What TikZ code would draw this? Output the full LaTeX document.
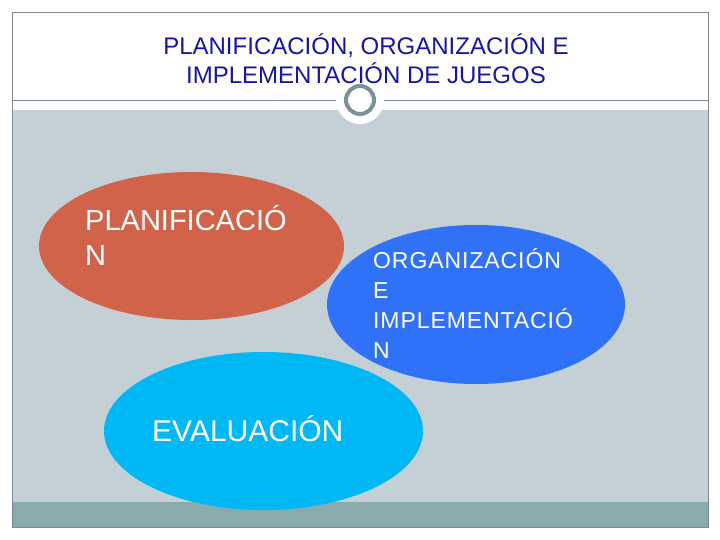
\documentclass[tikz,border=0pt]{standalone}
\usepackage{fontspec}
\setmainfont{Liberation Sans}
\usetikzlibrary{shapes.geometric}

\definecolor{panelgray}{RGB}{197,208,214}
\definecolor{bargray}{RGB}{138,171,171}
\definecolor{framegray}{RGB}{128,138,142}
\definecolor{ringgray}{RGB}{120,148,150}
\definecolor{titleblue}{RGB}{22,22,160}
\definecolor{planorange}{RGB}{208,99,74}
\definecolor{orgblue}{RGB}{48,114,247}
\definecolor{evalcyan}{RGB}{0,184,244}

\tikzset{
    blob/.style = {ellipse, inner sep = 0pt},
    bigtext/.style = {anchor = base west, inner sep = 0pt, text = white, font = \fontsize{29}{35}\selectfont},
    orgtext/.style = {anchor = base west, inner sep = 0pt, text = white, font = \addfontfeature{LetterSpace=4.0}\fontsize{23}{30}\selectfont},
    titletext/.style = {anchor = base, inner sep = 0pt, text = titleblue, font = \fontsize{24}{29}\selectfont}
}

\begin{document}
\begin{tikzpicture}[x = 1pt, y = -1pt]
    \useasboundingbox (0, 0) rectangle (720, 540);
    \fill [white] (0, 0) rectangle (720, 540);

    % panel and bottom bar
    \fill [panelgray] (12, 110) rectangle (708, 502);
    \fill [bargray] (12, 502) rectangle (708, 527);
    \draw [framegray, line width = .8pt] (12, 12) rectangle (708, 527);
    \draw [framegray, line width = .8pt] (12, 100) -- (708, 100);

    % ring on the rule
    \fill [white] (360, 100) circle (24);
    \draw [ringgray, line width = 4pt, fill = white] (360, 100) circle (14);

    % title
    \node [titletext] (title1) at (366, 55) {PLANIFICACIÓN, ORGANIZACIÓN E};
    \node [titletext] (title2) at (366, 84) {IMPLEMENTACIÓN DE JUEGOS};

    %%%%%%%%%%%%%%%%%%%%
    \node [blob, fill = planorange, minimum width = 305, minimum height = 148] (plan) at (191.5, 246) {};
    \node [blob, fill = orgblue, minimum width = 298, minimum height = 159] (org) at (476, 304.5) {};
    \node [blob, fill = evalcyan, minimum width = 319, minimum height = 158] (eval) at (263.5, 431) {};

    \node [bigtext] (plan1) at (85, 230) {PLANIFICACIÓ};
    \node [bigtext] (plan2) at (85, 265) {N};

    \node [orgtext] (org1) at (373, 268) {ORGANIZACIÓN};
    \node [orgtext] (org2) at (373, 298) {E};
    \node [orgtext] (org3) at (373, 328) {IMPLEMENTACIÓ};
    \node [orgtext] (org4) at (373, 358) {N};

    \node [bigtext, font = \fontsize{30}{35}\selectfont] (evaltxt) at (152, 441) {EVALUACIÓN};
\end{tikzpicture}
\end{document}
